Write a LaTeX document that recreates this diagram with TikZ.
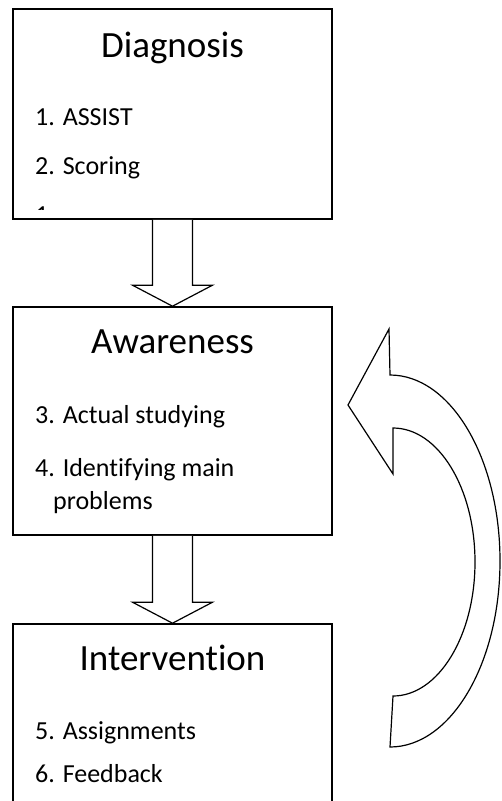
\documentclass[tikz,border=0pt]{standalone}
\usepackage{fontspec}
\setmainfont{Carlito}[Ligatures=NoCommon]
\usetikzlibrary{calc,positioning}

\tikzset{
  stage/.style={draw, line width=1.6pt, minimum width=319pt, inner sep=0pt},
  stagetitle/.style={anchor=base, inner sep=0pt, font=\fontsize{37}{44}\selectfont},
  stageitem/.style={anchor=base west, inner sep=0pt, font=\fontsize{26}{32}\selectfont},
  blockarrow/.style={draw, line width=1.2pt, fill=white, line join=miter}
}

\begin{document}
\begin{tikzpicture}[x=1pt,y=1pt]
  \useasboundingbox (0,0) rectangle (501,-801);
  \clip (0,0) rectangle (501,-801);

  % Stage boxes
  \node[stage, minimum height=210pt] (diag) at (172.5,-114) {};
  \node[stage, minimum height=228pt] (aware) at (172.5,-421) {};
  \node[stage, minimum height=190pt] (interv) at (172.5,-719) {};

  % Titles
  \node[stagetitle] (diagtitle) at (172.5,-57) {Diagnosis};
  \node[stagetitle] (awaretitle) at (172.5,-353) {Awareness};
  \node[stagetitle] (intervtitle) at (172.5,-670) {Intervention};

  % Steps
  \node[stageitem] (assist) at (35,-125) {1. ASSIST};
  \node[stageitem] (scoring) at (35,-174) {2. Scoring};
  \begin{scope}
    \clip (13,-9) rectangle (332,-209);
    \node[stageitem] (diagcut) at (35,-223) {1.};
  \end{scope}
  \node[stageitem] (studying) at (35,-423) {3. Actual studying};
  \node[stageitem] (identify) at (35,-476) {4. Identifying main};
  \node[stageitem] (problems) at (53,-509) {problems};
  \node[stageitem] (assign) at (35,-739) {5. Assignments};
  \node[stageitem] (feedback) at (35,-782) {6. Feedback};

  % Block arrows between stages
  \foreach \from/\to in {diag/aware, aware/interv}
    \draw[blockarrow] ($(\from.south)+(-20,0)$) -- ($(\to.north)+(-20,21)$)
      -- ($(\to.north)+(-40,21)$) -- (\to.north) -- ($(\to.north)+(40,21)$)
      -- ($(\to.north)+(20,21)$) -- ($(\from.south)+(20,0)$);

  % Curved return arrow
  \draw[blockarrow] (389,-329) -- (390,-375)
    arc[start angle=90, end angle=-90, x radius=110, y radius=186]
    -- (393,-696)
    arc[start angle=-90, end angle=90, x radius=82, y radius=134]
    -- (393,-474) -- (348,-405) -- cycle;
\end{tikzpicture}
\end{document}
